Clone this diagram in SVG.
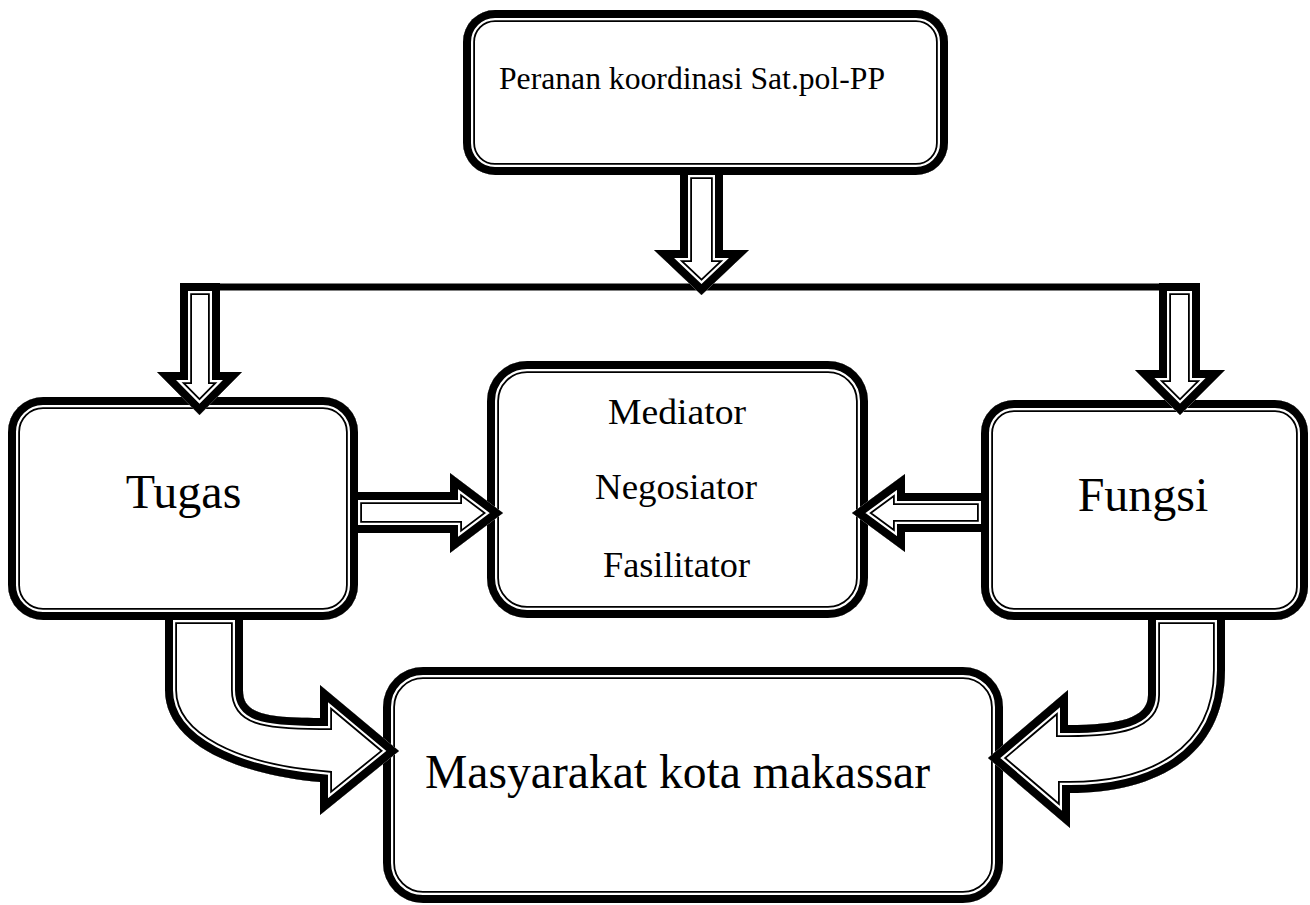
<svg xmlns="http://www.w3.org/2000/svg" xmlns:xlink="http://www.w3.org/1999/xlink" width="1310" height="905" viewBox="0 0 1310 905">
<style>
.o{fill:#fff;stroke:#000;stroke-width:24;stroke-linejoin:miter;stroke-miterlimit:10}
.g{fill:none;stroke:#fff;stroke-width:20.4;stroke-linejoin:miter;stroke-miterlimit:10}
.t{fill:none;stroke:#000;stroke-width:16;stroke-linejoin:miter;stroke-miterlimit:10}
.txt{font-family:"Liberation Serif","Times New Roman",serif;fill:#000}
</style>
<defs>
<rect id="bTop" x="463" y="10" width="485" height="165" rx="32"/>
<rect id="bTugas" x="8" y="397" width="350" height="223" rx="35"/>
<rect id="bMid" x="487" y="361" width="381" height="257" rx="40"/>
<rect id="bFungsi" x="981" y="400" width="327" height="220" rx="33"/>
<rect id="bBottom" x="383" y="667" width="620" height="236" rx="40"/>
<path id="a1" d="M680,167 H723 V250 H749 L701.5,295 L654,250 H680 Z"/>
<path id="a2" d="M180,283 H220 V372 H242 L199.5,415 L157,372 H180 Z"/>
<path id="a3" d="M1159,283 H1200 V370 H1225 L1180,415 L1135,370 H1159 Z"/>
<path id="a4" d="M350,492 H450 V473 L503,513 L450,553 V533 H350 Z"/>
<path id="a5" d="M989,493 H905 V474 L852,513 L905,552 V532 H989 Z"/>
<path id="a6" d="M165,612 H243 V690 C243,712 260,718 320,718 V685 L399,751 L320,815 V782 C240,775 165,745 165,690 Z"/>
<path id="a7" d="M1148,612 H1225 V670 C1225,760 1150,793 1070,793 V828 L988,758 L1068,690 V725 C1120,725 1148,718 1148,695 Z"/>
<clipPath id="cTop"><use xlink:href="#bTop"/></clipPath>
<clipPath id="cTugas"><use xlink:href="#bTugas"/></clipPath>
<clipPath id="cMid"><use xlink:href="#bMid"/></clipPath>
<clipPath id="cFungsi"><use xlink:href="#bFungsi"/></clipPath>
<clipPath id="cBottom"><use xlink:href="#bBottom"/></clipPath>
<clipPath id="c1"><use xlink:href="#a1"/></clipPath>
<clipPath id="c2"><use xlink:href="#a2"/></clipPath>
<clipPath id="c3"><use xlink:href="#a3"/></clipPath>
<clipPath id="c4"><use xlink:href="#a4"/></clipPath>
<clipPath id="c5"><use xlink:href="#a5"/></clipPath>
<clipPath id="c6"><use xlink:href="#a6"/></clipPath>
<clipPath id="c7"><use xlink:href="#a7"/></clipPath>
</defs>
<rect width="1310" height="905" fill="#fff"/>

<g id="node-peranan">
<g clip-path="url(#cTop)"><use xlink:href="#bTop" class="o"/><use xlink:href="#bTop" class="g"/><use xlink:href="#bTop" class="t"/></g>
<text class="txt" x="499" y="89" font-size="32" textLength="386" lengthAdjust="spacingAndGlyphs">Peranan koordinasi Sat.pol-PP</text>
</g>

<g id="node-tugas">
<g clip-path="url(#cTugas)"><use xlink:href="#bTugas" class="o"/><use xlink:href="#bTugas" class="g"/><use xlink:href="#bTugas" class="t"/></g>
<text class="txt" x="183.5" y="508" font-size="48" text-anchor="middle">Tugas</text>
</g>

<g id="node-peran">
<g clip-path="url(#cMid)"><use xlink:href="#bMid" class="o"/><use xlink:href="#bMid" class="g"/><use xlink:href="#bMid" class="t"/></g>
<text class="txt" x="677" y="424" font-size="36" text-anchor="middle" textLength="138" lengthAdjust="spacingAndGlyphs">Mediator</text>
<text class="txt" x="676" y="499" font-size="36" text-anchor="middle" textLength="162" lengthAdjust="spacingAndGlyphs">Negosiator</text>
<text class="txt" x="676.5" y="577" font-size="36" text-anchor="middle" textLength="147" lengthAdjust="spacingAndGlyphs">Fasilitator</text>
</g>

<g id="node-fungsi">
<g clip-path="url(#cFungsi)"><use xlink:href="#bFungsi" class="o"/><use xlink:href="#bFungsi" class="g"/><use xlink:href="#bFungsi" class="t"/></g>
<text class="txt" x="1143" y="511" font-size="48" text-anchor="middle">Fungsi</text>
</g>

<g id="node-masyarakat">
<g clip-path="url(#cBottom)"><use xlink:href="#bBottom" class="o"/><use xlink:href="#bBottom" class="g"/><use xlink:href="#bBottom" class="t"/></g>
<text class="txt" x="425" y="788" font-size="48" textLength="505" lengthAdjust="spacingAndGlyphs">Masyarakat kota makassar</text>
</g>

<g id="connectors">
<line x1="200" y1="287" x2="1180" y2="287" stroke="#000" stroke-width="7"/>
<g clip-path="url(#c1)"><use xlink:href="#a1" class="o"/><use xlink:href="#a1" class="g"/><use xlink:href="#a1" class="t"/></g>
<g clip-path="url(#c2)"><use xlink:href="#a2" class="o"/><use xlink:href="#a2" class="g"/><use xlink:href="#a2" class="t"/></g>
<g clip-path="url(#c3)"><use xlink:href="#a3" class="o"/><use xlink:href="#a3" class="g"/><use xlink:href="#a3" class="t"/></g>
<g clip-path="url(#c4)"><use xlink:href="#a4" class="o"/><use xlink:href="#a4" class="g"/><use xlink:href="#a4" class="t"/></g>
<g clip-path="url(#c5)"><use xlink:href="#a5" class="o"/><use xlink:href="#a5" class="g"/><use xlink:href="#a5" class="t"/></g>
<g clip-path="url(#c6)"><use xlink:href="#a6" class="o"/><use xlink:href="#a6" class="g"/><use xlink:href="#a6" class="t"/></g>
<g clip-path="url(#c7)"><use xlink:href="#a7" class="o"/><use xlink:href="#a7" class="g"/><use xlink:href="#a7" class="t"/></g>
</g>
</svg>
